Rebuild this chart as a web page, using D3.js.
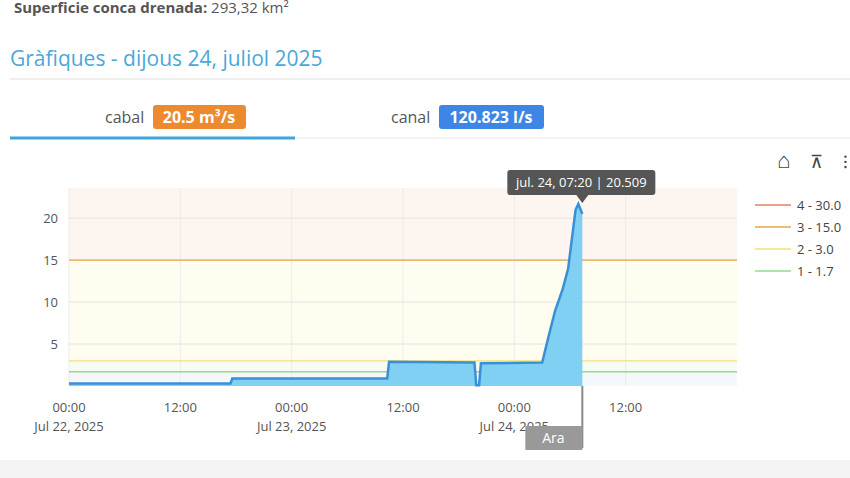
<!DOCTYPE html>
<html><head><meta charset="utf-8">
<script src="https://cdn.jsdelivr.net/npm/d3@7"></script>
<style>
body{margin:0;background:#fff;font-family:"Open Sans",sans-serif;overflow:hidden}
</style></head>
<body><div id="chart"></div>
<script>
const WIDTH = 850, HEIGHT = 478;
// hours since Jul 22 00:00 and flow m3/s
const hours = [0, 17.4, 17.6, 34.3, 34.5, 43.7, 43.9, 44.2, 44.4, 51.0, 51.6, 52.4, 53.2, 53.8, 54.6, 54.9, 55.33];
const flow  = [0.3, 0.3, 0.9, 0.9, 2.9, 2.8, 0.1, 0.1, 2.7, 2.8, 5.5, 9.0, 11.5, 14.0, 21.0, 21.7, 20.5];
const thresholds = [1.7, 3.0, 15.0, 30.0];
const thrLabels = ["1 - 1.7", "2 - 3.0", "3 - 15.0", "4 - 30.0"];
const thrColors = ["#8fdc8f", "#f0e27a", "#e8a64a", "#e08060"];
const bandColors = ["#f4f8fc", "#f6fbf3", "#fffcf0", "#fdf6f0"];
const yTicks = [5, 10, 15, 20];

const svg = d3.select("#chart").append("svg").attr("width", WIDTH).attr("height", HEIGHT);
const t0 = new Date(2025, 6, 22);
const x = d3.scaleTime().domain([t0, d3.timeHour.offset(t0, 72)]).range([69, 737]);
const y = d3.scaleLinear().domain([0, 23.6]).range([386, 188]);

// header
svg.append("text").attr("x", 14).attr("y", 13).attr("font-size", 15).attr("fill", "#555")
  .html('<tspan font-weight="bold">Superficie conca drenada:</tspan> 293,32 km²');
svg.append("text").attr("x", 10).attr("y", 66).attr("font-size", 21).attr("fill", "#4aa8d8").text("Gràfiques - dijous 24, juliol 2025");
svg.append("line").attr("x1", 10).attr("x2", 850).attr("y1", 79).attr("y2", 79).attr("stroke", "#ddd");
svg.append("text").attr("x", 105).attr("y", 123).attr("font-size", 16).attr("fill", "#555").text("cabal");
svg.append("rect").attr("x", 153).attr("y", 105).attr("width", 93).attr("height", 24).attr("rx", 3).attr("fill", "#ee8a2e");
svg.append("text").attr("x", 199).attr("y", 123).attr("text-anchor", "middle").attr("font-size", 16).attr("font-weight", "bold").attr("fill", "#fff").text("20.5 m³/s");
svg.append("text").attr("x", 391).attr("y", 123).attr("font-size", 16).attr("fill", "#555").text("canal");
svg.append("rect").attr("x", 439).attr("y", 105).attr("width", 105).attr("height", 24).attr("rx", 3).attr("fill", "#3d86e6");
svg.append("text").attr("x", 491).attr("y", 123).attr("text-anchor", "middle").attr("font-size", 16).attr("font-weight", "bold").attr("fill", "#fff").text("120.823 l/s");
svg.append("line").attr("x1", 10).attr("x2", 850).attr("y1", 138).attr("y2", 138).attr("stroke", "#e6e6e6");
svg.append("line").attr("x1", 10).attr("x2", 295).attr("y1", 138).attr("y2", 138).attr("stroke", "#3fa6dc").attr("stroke-width", 3);

// toolbar icons
svg.append("text").attr("x", 777).attr("y", 168).attr("font-size", 22).attr("fill", "#444").text("⌂");
svg.append("text").attr("x", 810).attr("y", 168).attr("font-size", 18).attr("fill", "#444").text("⊼");
svg.append("text").attr("x", 843).attr("y", 168).attr("font-size", 18).attr("fill", "#444").text("⁝");

// bands
const bandEdges = [0, ...thresholds];
bandEdges.forEach((b, i) => {
  const top = Math.min(i < thresholds.length ? thresholds[i] : 30, 23.6);
  if (b >= 23.6) return;
  svg.append("rect").attr("x", x.range()[0]).attr("width", x.range()[1] - x.range()[0])
    .attr("y", y(top)).attr("height", y(b) - y(top)).attr("fill", bandColors[i]);
});
// grid
const ticks = d3.range(0, 72, 12).map(h => d3.timeHour.offset(t0, h));
svg.append("g").selectAll("line").data(ticks).join("line")
  .attr("x1", d => x(d)).attr("x2", d => x(d)).attr("y1", 188).attr("y2", 386).attr("stroke", "#ebebeb");
svg.append("g").selectAll("line").data(yTicks).join("line")
  .attr("x1", 69).attr("x2", 737).attr("y1", d => y(d)).attr("y2", d => y(d)).attr("stroke", "#e3e3e3");
thresholds.filter(t => t < 23.6).forEach((t, i) => {
  svg.append("line").attr("x1", 69).attr("x2", 737).attr("y1", y(t)).attr("y2", y(t)).attr("stroke", thrColors[i]).attr("stroke-width", 1.3);
});

const data = hours.map((h, i) => ({ t: new Date(t0.getTime() + h * 3600e3), v: flow[i] }));
svg.append("path").datum(data).attr("fill", "#7fd0f2")
  .attr("d", d3.area().x(d => x(d.t)).y0(y(0)).y1(d => y(d.v)));
svg.append("path").datum(data).attr("fill", "none").attr("stroke", "#3a90d6").attr("stroke-width", 2.5)
  .attr("d", d3.line().x(d => x(d.t)).y(d => y(d.v)));

// y labels
svg.append("g").selectAll("text").data(yTicks).join("text")
  .attr("x", 58).attr("y", d => y(d) + 5).attr("text-anchor", "end").attr("font-size", 13).attr("fill", "#555").text(d => d);
// x labels
const fmtD = d3.timeFormat("%b %-d, %Y");
ticks.forEach(d => {
  const tx = svg.append("text").attr("x", x(d)).attr("y", 412).attr("text-anchor", "middle").attr("font-size", 13).attr("fill", "#555");
  tx.append("tspan").attr("x", x(d)).text(d3.timeFormat("%H:%M")(d));
  if (d.getHours() === 0) tx.append("tspan").attr("x", x(d)).attr("dy", 19).text(fmtD(d));
});

// now marker
const last = data[data.length - 1];
svg.append("line").attr("x1", x(last.t)).attr("x2", x(last.t)).attr("y1", y(0)).attr("y2", 448).attr("stroke", "#888").attr("stroke-width", 2);
svg.append("rect").attr("x", x(last.t) - 57).attr("y", 426).attr("width", 57).attr("height", 24).attr("fill", "#999");
svg.append("text").attr("x", x(last.t) - 29).attr("y", 443).attr("text-anchor", "middle").attr("font-size", 14).attr("fill", "#fff").text("Ara");

// tooltip
const tx = x(last.t);
svg.append("rect").attr("x", tx - 75).attr("y", 170).attr("width", 148).attr("height", 25).attr("rx", 3).attr("fill", "#555");
svg.append("path").attr("d", `M${tx - 6},195 L${tx},203 L${tx + 6},195 Z`).attr("fill", "#555");
svg.append("text").attr("x", tx - 1).attr("y", 187).attr("text-anchor", "middle").attr("font-size", 13).attr("fill", "#fff").text("jul. 24, 07:20 | 20.509");

// legend
const lg = svg.append("g").selectAll("g").data(d3.range(4).reverse()).join("g")
  .attr("transform", (d, i) => `translate(755,${205 + i * 22})`);
lg.append("line").attr("x1", 0).attr("x2", 36).attr("stroke", d => thrColors[d]).attr("stroke-width", 1.5);
lg.append("text").attr("x", 42).attr("y", 5).attr("font-size", 13).attr("fill", "#444").text(d => thrLabels[d]);

svg.append("rect").attr("x", 0).attr("y", 460).attr("width", WIDTH).attr("height", 18).attr("fill", "#f4f4f4");
</script></body></html>
